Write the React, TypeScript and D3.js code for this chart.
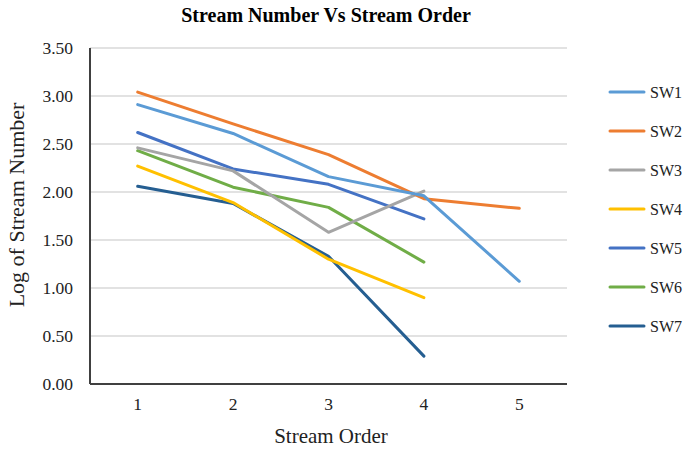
import React, { useEffect, useRef } from "react";
import * as d3 from "d3";

const orders = [1, 2, 3, 4, 5];
const yTicks = [0, 0.5, 1, 1.5, 2, 2.5, 3, 3.5];

const sw1 = [2.91, 2.61, 2.16, 1.96, 1.07];
const sw2 = [3.04, 2.71, 2.39, 1.93, 1.83];
const sw3 = [2.46, 2.22, 1.58, 2.01];
const sw4 = [2.27, 1.89, 1.3, 0.9];
const sw5 = [2.62, 2.24, 2.08, 1.72];
const sw6 = [2.43, 2.05, 1.84, 1.27];
const sw7 = [2.06, 1.88, 1.33, 0.29];

const seriesNames = ["SW1", "SW2", "SW3", "SW4", "SW5", "SW6", "SW7"];
const seriesColors = ["#5B9BD5", "#ED7D31", "#A5A5A5", "#FFC000", "#4472C4", "#70AD47", "#255E91"];

const App = () => {
  const ref = useRef<SVGSVGElement>(null);

  useEffect(() => {
    const margin = { top: 48, right: 118, bottom: 66, left: 90 };
    const width = 685 - margin.left - margin.right;
    const height = 450 - margin.top - margin.bottom;
    const font = "'Liberation Serif', 'Times New Roman', serif";

    const svg = d3.select(ref.current);
    svg.selectAll("*").remove();

    const g = svg.append("g").attr("transform", `translate(${margin.left}, ${margin.top})`);

    const x = d3.scalePoint<number>().domain(orders).range([0, width]).padding(0.5);
    const y = d3.scaleLinear().domain([0, 3.5]).range([height, 0]);

    // gridlines
    g.selectAll(".grid")
      .data(yTicks.filter((t) => t > 0))
      .join("line")
      .attr("class", "grid")
      .attr("x1", 0)
      .attr("x2", width)
      .attr("y1", (d) => y(d))
      .attr("y2", (d) => y(d))
      .attr("stroke", "#d9d9d9")
      .attr("stroke-width", 1.3);

    // y labels
    g.selectAll(".ylab")
      .data(yTicks)
      .join("text")
      .attr("class", "ylab")
      .attr("x", -17)
      .attr("y", (d) => y(d))
      .attr("dy", "0.35em")
      .attr("text-anchor", "end")
      .attr("font-family", font)
      .attr("font-size", 17.5)
      .attr("fill", "#222")
      .text((d) => d.toFixed(2));

    // x labels
    g.selectAll(".xlab")
      .data(orders)
      .join("text")
      .attr("class", "xlab")
      .attr("x", (d) => x(d)!)
      .attr("y", height + 26)
      .attr("text-anchor", "middle")
      .attr("font-family", font)
      .attr("font-size", 17.5)
      .attr("fill", "#222")
      .text((d) => d);

    // axes lines
    g.append("line")
      .attr("x1", 0).attr("x2", 0).attr("y1", 0).attr("y2", height)
      .attr("stroke", "#404040").attr("stroke-width", 2);
    g.append("line")
      .attr("x1", 0).attr("x2", width).attr("y1", height).attr("y2", height)
      .attr("stroke", "#404040").attr("stroke-width", 2);

    const allSeries = [sw1, sw2, sw3, sw4, sw5, sw6, sw7];
    const line = d3
      .line<number>()
      .x((_, i) => x(orders[i])!)
      .y((d) => y(d));

    // draw in reverse so SW1/SW2 end up on top
    allSeries
      .map((s, i) => ({ s, i }))
      .reverse()
      .forEach(({ s, i }) => {
        g.append("path")
          .attr("d", line(s))
          .attr("fill", "none")
          .attr("stroke", seriesColors[i])
          .attr("stroke-width", 3)
          .attr("stroke-linejoin", "round")
          .attr("stroke-linecap", "round");
      });

    // legend
    const legend = svg.append("g").attr("transform", "translate(610, 92)");
    seriesNames.forEach((name, i) => {
      const row = legend.append("g").attr("transform", `translate(0, ${i * 39})`);
      row.append("line")
        .attr("x1", 0).attr("x2", 34).attr("y1", 0).attr("y2", 0)
        .attr("stroke", seriesColors[i]).attr("stroke-width", 3)
        .attr("stroke-linecap", "round");
      row.append("text")
        .attr("x", 40)
        .attr("y", 0)
        .attr("dy", "0.35em")
        .attr("font-family", font)
        .attr("font-size", 16)
        .attr("fill", "#222")
        .text(name);
    });

    // title
    svg.append("text")
      .attr("x", 326)
      .attr("y", 22)
      .attr("text-anchor", "middle")
      .attr("font-family", font)
      .attr("font-size", 20)
      .attr("font-weight", "bold")
      .text("Stream Number Vs Stream Order");

    // axis titles
    svg.append("text")
      .attr("x", 331)
      .attr("y", 443)
      .attr("text-anchor", "middle")
      .attr("font-family", font)
      .attr("font-size", 21)
      .attr("fill", "#222")
      .text("Stream Order");

    svg.append("text")
      .attr("transform", `translate(24, 205) rotate(-90)`)
      .attr("text-anchor", "middle")
      .attr("font-family", font)
      .attr("font-size", 22)
      .attr("fill", "#222")
      .text("Log of Stream Number");
  }, []);

  return (
    <svg
      ref={ref}
      width={685}
      height={450}
      style={{ position: "absolute", left: 0, top: 0, background: "#fff" }}
    />
  );
};

export default App;
